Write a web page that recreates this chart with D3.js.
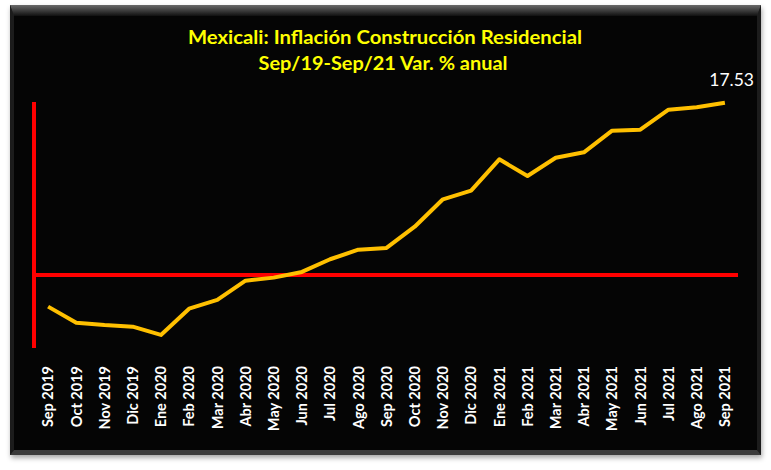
<!DOCTYPE html>
<html>
<head>
<meta charset="utf-8">
<script src="https://cdn.jsdelivr.net/npm/d3@7"></script>
<style>
  html, body { margin: 0; padding: 0; background: #ffffff; }
  svg { display: block; }
</style>
</head>
<body>
<svg id="chart" width="771" height="470"></svg>
<script>
const months = ["Sep 2019","Oct 2019","Nov 2019","Dic 2019","Ene 2020","Feb 2020","Mar 2020","Abr 2020","May 2020","Jun 2020","Jul 2020","Ago 2020","Sep 2020","Oct 2020","Nov 2020","Dic 2020","Ene 2021","Feb 2021","Mar 2021","Abr 2021","May 2021","Jun 2021","Jul 2021","Ago 2021","Sep 2021"];
const inflation = [-3.22,-4.85,-5.09,-5.26,-6.10,-3.43,-2.54,-0.58,-0.27,0.31,1.60,2.57,2.75,4.91,7.70,8.58,11.77,10.07,11.93,12.48,14.68,14.78,16.82,17.06,17.53];
const titleLines = ["Mexicali: Inflación Construcción Residencial", "Sep/19-Sep/21 Var. % anual"];
const lastLabel = "17.53";

const svg = d3.select("#chart");
const defs = svg.append("defs");

const shadow = defs.append("filter").attr("id","shadow").attr("x","-5%").attr("y","-5%").attr("width","110%").attr("height","115%");
shadow.append("feDropShadow").attr("dx",1).attr("dy",3).attr("stdDeviation",2.5).attr("flood-color","#000").attr("flood-opacity",0.35);

const topGrad = defs.append("linearGradient").attr("id","topBevel").attr("x1",0).attr("y1",0).attr("x2",0).attr("y2",1);
topGrad.append("stop").attr("offset","0%").attr("stop-color","#6a6a6a");
topGrad.append("stop").attr("offset","100%").attr("stop-color","#101010");

const L = 10, T = 5, R = 761, B = 455;
svg.append("rect").attr("x",L).attr("y",T).attr("width",R-L).attr("height",B-T)
  .attr("fill","#2a2a2a").attr("filter","url(#shadow)");
svg.append("path").attr("d",`M${L},${T}H${R}L${R-4},${T+11}H${L+4}Z`).attr("fill","url(#topBevel)");
svg.append("path").attr("d",`M${L},${B}H${R}L${R-4},${B-5}H${L+4}Z`).attr("fill","#3a3a3a");
svg.append("path").attr("d",`M${L},${T}L${L+4},${T+11}V${B-5}L${L},${B}Z`).attr("fill","#1c1c1c");
svg.append("path").attr("d",`M${R},${T}L${R-4},${T+11}V${B-5}L${R},${B}Z`).attr("fill","#1c1c1c");
svg.append("rect").attr("x",L+4).attr("y",T+11).attr("width",R-L-8).attr("height",B-T-16).attr("fill","#050505");

// scales
const x = d3.scaleBand().domain(months).range([34, 739]).paddingInner(0).paddingOuter(0);
const yMin = -7.43, yMax = 17.6;
const y = d3.scaleLinear().domain([yMin, yMax]).range([348, 102]);
const cx = d => x(d) + x.bandwidth()/2;

// title
const title = svg.append("g").attr("font-family","Lato, 'Open Sans', sans-serif").attr("font-weight","bold").attr("fill","#ffff00").attr("text-anchor","middle");
title.append("text").attr("x",385).attr("y",43.5).attr("font-size",18.5).attr("textLength",394).attr("lengthAdjust","spacingAndGlyphs").text(titleLines[0]);
title.append("text").attr("x",383).attr("y",69.5).attr("font-size",18.5).attr("textLength",249).attr("lengthAdjust","spacingAndGlyphs").text(titleLines[1]);

// axes lines
svg.append("line").attr("x1",34).attr("x2",34).attr("y1",y(yMax)).attr("y2",y(yMin))
  .attr("stroke","#ff0000").attr("stroke-width",4);
svg.append("line").attr("x1",33).attr("x2",738).attr("y1",y(0)).attr("y2",y(0))
  .attr("stroke","#ff0000").attr("stroke-width",4);

// x axis labels
const xAxis = d3.axisBottom(x).tickSize(0).tickPadding(0);
const gx = svg.append("g").attr("transform","translate(0,366)").call(xAxis);
gx.select(".domain").remove();
gx.selectAll("text")
  .attr("fill","#ffffff")
  .attr("font-family","Lato, 'Open Sans', sans-serif")
  .attr("font-weight","bold")
  .attr("font-size",14.5)
  .attr("text-anchor","end")
  .attr("transform","rotate(-90)")
  .attr("x",0).attr("y",0).attr("dy","0.36em");

// line
const line = d3.line().x((d,i) => cx(months[i])).y(d => y(d));
svg.append("path").datum(inflation).attr("d",line)
  .attr("fill","none").attr("stroke","#ffc000").attr("stroke-width",4).attr("stroke-linejoin","round");

// last value label
svg.append("text").attr("x",754).attr("y",85.5).attr("text-anchor","end")
  .attr("font-family","Lato, 'Open Sans', sans-serif").attr("font-size",17.5)
  .attr("fill","#ffffff").text(lastLabel);
</script>
</body>
</html>
